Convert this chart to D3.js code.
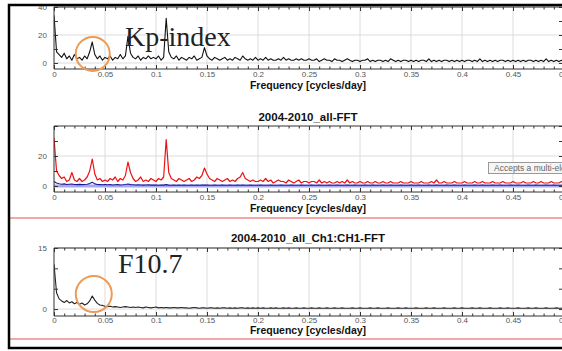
<!DOCTYPE html>
<html>
<head>
<meta charset="utf-8">
<script src="https://cdn.jsdelivr.net/npm/d3@7"></script>
<style>
  body { margin: 0; background: #fff; }
  svg { display: block; }
</style>
</head>
<body>
<svg id="chart" width="562" height="351"></svg>
<script>
// frequency grid of the spectra (cycles/day)
const freqStep = 0.0025;
const xTicks = [0, 0.05, 0.1, 0.15, 0.2, 0.25, 0.3, 0.35, 0.4, 0.45, 0.5];

// Kp-index spectrum (top panel)
const kpIndex = [
  34, 8, 6, 4, 7, 3, 5, 2, 6, 3, 4, 2, 5, 3, 8, 15, 6, 3, 5, 2,
  4, 3, 5, 2, 4, 3, 6, 3, 5, 19, 7, 4, 3, 5, 2, 4, 3, 5, 3, 4,
  3, 5, 2, 4, 32, 8, 4, 3, 5, 2, 4, 3, 2, 4, 3, 5, 2, 3, 4, 11,
  5, 3, 2, 4, 3, 2, 3, 4, 2, 3, 2, 4, 3, 2, 5, 3, 2, 3, 2, 4,
  2, 3, 2, 4, 2, 3, 2, 2, 3, 2, 4, 2, 3, 2, 2, 3, 2, 3, 2, 2,
  3, 2, 2, 3, 1, 2, 3, 2, 2, 1, 3, 2, 2, 1, 2, 3, 2, 1, 2, 2,
  1, 2, 2, 3, 1, 2, 1, 2, 2, 1, 2, 1, 3, 2, 1, 2, 1, 2, 2, 1,
  2, 1, 2, 1, 2, 2, 1, 3, 1, 2, 1, 2, 1, 2, 2, 1, 2, 1, 2, 1,
  2, 1, 2, 2, 1, 2, 1, 3, 1, 2, 1, 2, 1, 2, 1, 2, 2, 1, 2, 1,
  2, 1, 2, 1, 2, 1, 2, 2, 1, 2, 1, 2, 1, 3, 1, 2, 1, 2, 1, 2, 1
];

// 2004-2010_all-FFT, red and blue channels (middle panel)
const allFftRed = [
  32, 10, 7, 5, 6, 3, 4, 9, 4, 3, 5, 3, 4, 6, 10, 18, 8, 4, 5, 3,
  4, 3, 5, 4, 6, 3, 5, 4, 7, 16, 9, 5, 3, 4, 6, 3, 4, 3, 5, 4,
  3, 5, 4, 6, 31, 9, 5, 4, 3, 5, 4, 3, 4, 5, 3, 4, 6, 5, 7, 12,
  8, 5, 4, 3, 5, 4, 3, 4, 5, 3, 4, 3, 5, 6, 9, 5, 4, 3, 4, 3,
  3, 4, 3, 5, 3, 4, 2, 3, 4, 3, 3, 2, 4, 3, 2, 3, 4, 2, 3, 3,
  2, 3, 3, 2, 4, 2, 3, 2, 3, 2, 2, 3, 2, 3, 2, 4, 2, 3, 2, 2,
  3, 2, 2, 3, 2, 2, 3, 2, 2, 3, 2, 2, 3, 2, 2, 2, 3, 2, 2, 2,
  3, 2, 2, 2, 3, 2, 2, 2, 3, 2, 4, 2, 2, 3, 2, 2, 2, 3, 2, 2,
  2, 3, 2, 2, 2, 3, 2, 2, 3, 2, 2, 2, 3, 2, 2, 2, 3, 2, 2, 2,
  3, 2, 2, 2, 3, 2, 2, 2, 3, 2, 2, 3, 2, 2, 2, 3, 2, 2, 2, 3, 2
];
const allFftBlue = [
  3, 2, 1.5, 1.2, 1.4, 1, 1.2, 1.3, 1, 0.9, 1.1, 0.9, 1, 1.2, 1.6, 2.5, 1.4, 1, 0.9, 0.8,
  0.9, 0.8, 0.9, 0.7, 0.8, 0.9, 0.7, 0.8, 1, 1.3, 0.9, 0.8, 0.7, 0.8, 0.7, 0.6, 0.7, 0.8, 0.6, 0.7,
  0.6, 0.5, 0.7, 0.6, 0.9, 0.6, 0.5, 0.6, 0.5, 0.6, 0.5, 0.6, 0.5, 0.5, 0.6, 0.5, 0.6, 0.5, 0.6, 0.7,
  0.6, 0.5, 0.5, 0.6, 0.5, 0.5, 0.6, 0.5, 0.5, 0.6, 0.5, 0.5, 0.6, 0.5, 0.7, 0.5, 0.5, 0.6, 0.5, 0.5,
  0.5, 0.6, 0.5, 0.5, 0.5, 0.6, 0.5, 0.5, 0.5, 0.6, 0.5, 0.5, 0.5, 0.6, 0.5, 0.5, 0.5, 0.6, 0.5, 0.5,
  0.5, 0.6, 0.5, 0.5, 0.6, 0.5, 0.5, 0.5, 0.6, 0.5, 0.5, 0.6, 0.5, 0.5, 0.5, 0.6, 0.5, 0.5, 0.6, 0.5,
  0.5, 0.5, 0.6, 0.5, 0.5, 0.6, 0.5, 0.5, 0.5, 0.6, 0.5, 0.5, 0.6, 0.5, 0.5, 0.5, 0.6, 0.5, 0.5, 0.5,
  0.6, 0.5, 0.5, 0.6, 0.5, 0.5, 0.5, 0.6, 0.5, 0.5, 0.6, 0.5, 0.5, 0.5, 0.6, 0.5, 0.5, 0.6, 0.5, 0.5,
  0.5, 0.6, 0.5, 0.5, 0.5, 0.6, 0.5, 0.5, 0.6, 0.5, 0.5, 0.5, 0.6, 0.5, 0.5, 0.6, 0.5, 0.5, 0.5, 0.6,
  0.5, 0.5, 0.6, 0.5, 0.5, 0.5, 0.6, 0.5, 0.5, 0.6, 0.5, 0.5, 0.5, 0.6, 0.5, 0.5, 0.6, 0.5, 0.5, 0.5, 0.6
];

// 2004-2010_all_Ch1:CH1-FFT, F10.7 (bottom panel)
const f107 = [
  11, 4, 2.5, 2, 1.6, 2.1, 1.5, 1.8, 1.3, 1.6, 1.2, 1.5, 1, 1.3, 2, 3.2, 2.2, 1.4, 1, 0.9,
  0.7, 0.6, 0.7, 0.5, 0.6, 0.5, 0.4, 0.5, 0.6, 0.5, 0.4, 0.5, 0.4, 0.5, 0.4, 0.3, 0.5, 0.4, 0.3, 0.4,
  0.5, 0.3, 0.4, 0.3, 0.4, 0.3, 0.3, 0.4, 0.3, 0.3, 0.4, 0.3, 0.3, 0.2, 0.3, 0.4, 0.3, 0.2, 0.3, 0.3,
  0.2, 0.3, 0.3, 0.2, 0.3, 0.2, 0.3, 0.3, 0.2, 0.3, 0.2, 0.3, 0.2, 0.3, 0.3, 0.2, 0.3, 0.2, 0.3, 0.2,
  0.3, 0.2, 0.3, 0.2, 0.2, 0.3, 0.2, 0.3, 0.2, 0.2, 0.3, 0.2, 0.3, 0.2, 0.2, 0.3, 0.2, 0.2, 0.3, 0.2,
  0.2, 0.3, 0.2, 0.2, 0.3, 0.2, 0.2, 0.3, 0.2, 0.2, 0.3, 0.2, 0.2, 0.3, 0.2, 0.2, 0.2, 0.3, 0.2, 0.2,
  0.3, 0.2, 0.2, 0.2, 0.3, 0.2, 0.2, 0.3, 0.2, 0.2, 0.2, 0.3, 0.2, 0.2, 0.2, 0.3, 0.2, 0.2, 0.3, 0.2,
  0.2, 0.2, 0.3, 0.2, 0.2, 0.2, 0.3, 0.2, 0.2, 0.3, 0.2, 0.2, 0.2, 0.3, 0.2, 0.2, 0.2, 0.3, 0.2, 0.2,
  0.3, 0.2, 0.2, 0.2, 0.3, 0.2, 0.2, 0.3, 0.2, 0.2, 0.2, 0.3, 0.2, 0.2, 0.2, 0.3, 0.2, 0.2, 0.3, 0.2,
  0.2, 0.2, 0.3, 0.2, 0.2, 0.2, 0.3, 0.2, 0.2, 0.3, 0.2, 0.2, 0.2, 0.3, 0.2, 0.2, 0.2, 0.3, 0.2, 0.2, 0.3
];

const xAxisTitle = "Frequency [cycles/day]";

const svg = d3.select("#chart");
const sans = "Arial, 'Liberation Sans', sans-serif";
const serif = "'Times New Roman', 'Liberation Serif', serif";

const x = d3.scaleLinear().domain([0, 0.5]).range([54, 564]);
const minorTicks = d3.range(0, 0.5001, 0.01).filter(
  (v) => !xTicks.some((t) => Math.abs(t - v) < 1e-6)
);
const fmt = (d) => String(+d.toFixed(2));

const panels = [
  {
    top: 7, bottom: 69, yDomain: [-4.3, 40],
    yTicks: [0, 10, 20, 30, 40], yLabels: [0, 20, 40],
    tickLabelY: 77, xTitleY: 89, title: null,
    series: [{ values: kpIndex, color: "#111", width: 1.1 }]
  },
  {
    top: 126, bottom: 192, yDomain: [-4, 40],
    yTicks: [0, 10, 20, 30, 40], yLabels: [0, 20],
    tickLabelY: 200, xTitleY: 212, title: "2004-2010_all-FFT", titleY: 121,
    zeroBand: true,
    series: [
      { values: allFftRed, color: "#ee1111", width: 1.2 },
      { values: allFftBlue, color: "#1a1a99", width: 1.1 }
    ]
  },
  {
    top: 248, bottom: 316, yDomain: [-1.7, 15],
    yTicks: [0, 5, 10, 15], yLabels: [0, 15],
    tickLabelY: 323, xTitleY: 334, title: "2004-2010_all_Ch1:CH1-FFT", titleY: 242,
    series: [{ values: f107, color: "#222", width: 1.1 }]
  }
];

panels.forEach((p, pi) => {
  const y = d3.scaleLinear().domain(p.yDomain).range([p.bottom, p.top]);
  const g = svg.append("g");

  svg.append("clipPath").attr("id", "clip" + pi)
    .append("rect")
    .attr("x", x(0)).attr("y", p.top)
    .attr("width", x(0.5) - x(0)).attr("height", p.bottom - p.top);

  // grid
  g.append("g").selectAll("line").data(xTicks.slice(1)).join("line")
    .attr("x1", (d) => x(d)).attr("x2", (d) => x(d))
    .attr("y1", p.top).attr("y2", p.bottom)
    .attr("stroke", "#dcdcdc").attr("stroke-width", 1);
  g.append("g").selectAll("line").data(p.yLabels).join("line")
    .attr("x1", x(0)).attr("x2", x(0.5))
    .attr("y1", (d) => y(d)).attr("y2", (d) => y(d))
    .attr("stroke", "#dcdcdc").attr("stroke-width", 1);

  const plot = g.append("g").attr("clip-path", `url(#clip${pi})`);

  if (p.zeroBand) {
    plot.append("line")
      .attr("x1", x(0)).attr("x2", x(0.5))
      .attr("y1", y(0)).attr("y2", y(0))
      .attr("stroke", "#a8a8f0").attr("stroke-width", 3);
  }

  p.series.forEach((s) => {
    const line = d3.line()
      .x((d, i) => x(i * freqStep))
      .y((d) => y(d));
    plot.append("path")
      .datum(s.values)
      .attr("fill", "none")
      .attr("stroke", s.color)
      .attr("stroke-width", s.width)
      .attr("stroke-linejoin", "round")
      .attr("d", line);
  });

  // box
  g.append("path")
    .attr("d", `M${x(0.5)},${p.top}H${x(0)}V${p.bottom}H${x(0.5)}`)
    .attr("fill", "none").attr("stroke", "#333").attr("stroke-width", 1);

  // bottom axis
  const bottomAxis = g.append("g")
    .attr("transform", `translate(0,${p.bottom})`)
    .call(d3.axisBottom(x).tickValues(xTicks).tickSize(-4).tickFormat(fmt));
  bottomAxis.select(".domain").remove();
  bottomAxis.selectAll("line").attr("stroke", "#333");
  bottomAxis.selectAll("text")
    .attr("y", p.tickLabelY - p.bottom).attr("dy", null)
    .style("font-family", sans).style("font-size", "8px").attr("fill", "#555");

  g.append("g")
    .attr("transform", `translate(0,${p.bottom})`)
    .call(d3.axisBottom(x).tickValues(minorTicks).tickSize(-2.5).tickFormat(""))
    .call((a) => a.select(".domain").remove())
    .selectAll("line").attr("stroke", "#333");

  // top ticks
  g.append("g")
    .attr("transform", `translate(0,${p.top})`)
    .call(d3.axisTop(x).tickValues(xTicks).tickSize(-4).tickFormat(""))
    .call((a) => a.select(".domain").remove())
    .selectAll("line").attr("stroke", "#333");
  g.append("g")
    .attr("transform", `translate(0,${p.top})`)
    .call(d3.axisTop(x).tickValues(minorTicks).tickSize(-2.5).tickFormat(""))
    .call((a) => a.select(".domain").remove())
    .selectAll("line").attr("stroke", "#333");

  // left axis
  const leftAxis = g.append("g")
    .attr("transform", `translate(${x(0)},0)`)
    .call(d3.axisLeft(y).tickValues(p.yTicks).tickSize(-4).tickPadding(7)
      .tickFormat((d) => (p.yLabels.includes(d) ? d : "")));
  leftAxis.select(".domain").remove();
  leftAxis.selectAll("line").attr("stroke", "#333");
  leftAxis.selectAll("text")
    .style("font-family", sans).style("font-size", "8px").attr("fill", "#555");

  // right axis ticks
  g.append("g")
    .attr("transform", `translate(${x(0.5)},0)`)
    .call(d3.axisRight(y).tickValues(p.yTicks).tickSize(-5).tickFormat(""))
    .call((a) => a.select(".domain").remove())
    .selectAll("line").attr("stroke", "#333");

  // x title
  svg.append("text")
    .attr("x", 308).attr("y", p.xTitleY)
    .attr("text-anchor", "middle")
    .style("font-family", sans).style("font-size", "10.5px").style("font-weight", "bold")
    .attr("fill", "#111")
    .text(xAxisTitle);

  if (p.title) {
    svg.append("text")
      .attr("x", 308).attr("y", p.titleY)
      .attr("text-anchor", "middle")
      .style("font-family", sans).style("font-size", "11.5px").style("font-weight", "bold")
      .attr("fill", "#111")
      .text(p.title);
  }
  p.y = y;
});

// annotations
const topY = panels[0].y;
const botY = panels[2].y;

svg.append("text")
  .attr("x", 125).attr("y", 46)
  .style("font-family", serif).style("font-size", "28px")
  .attr("fill", "#222")
  .text("Kp-index");

svg.append("text")
  .attr("x", 118).attr("y", 273)
  .style("font-family", serif).style("font-size", "28px")
  .attr("fill", "#222")
  .text("F10.7");

svg.append("circle")
  .attr("cx", x(0.038)).attr("cy", topY(6.5)).attr("r", 17)
  .attr("fill", "none").attr("stroke", "#ee9a55").attr("stroke-width", 2);

svg.append("circle")
  .attr("cx", x(0.039)).attr("cy", botY(3.7)).attr("r", 18)
  .attr("fill", "none").attr("stroke", "#ee9a55").attr("stroke-width", 2);

// tooltip box on the middle panel
svg.append("rect")
  .attr("x", 488.5).attr("y", 162.5).attr("width", 110).attr("height", 11)
  .attr("fill", "#f6f6f6").attr("stroke", "#999");
svg.append("text")
  .attr("x", 494).attr("y", 171)
  .style("font-family", sans).style("font-size", "8.5px")
  .attr("fill", "#666")
  .text("Accepts a multi-element input");

// separator lines
svg.selectAll(".sep").data([218, 339]).join("line")
  .attr("class", "sep")
  .attr("x1", 10).attr("x2", 562)
  .attr("y1", (d) => d).attr("y2", (d) => d)
  .attr("stroke", "#f08a8a").attr("stroke-width", 1.5);

// outer frame
svg.append("rect")
  .attr("x", 9).attr("y", 5).attr("width", 600).attr("height", 343)
  .attr("fill", "none").attr("stroke", "#000").attr("stroke-width", 2.5);
</script>
</body>
</html>
